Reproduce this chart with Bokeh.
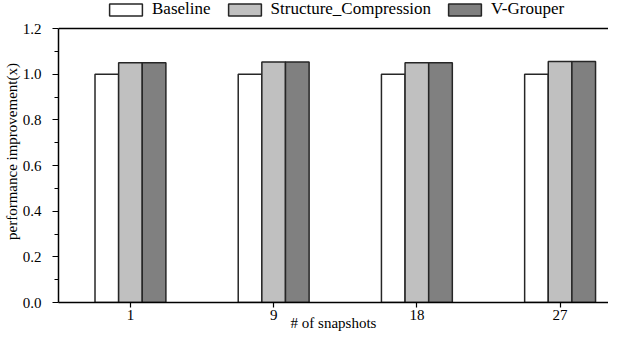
from bokeh.plotting import figure
from bokeh.models import (ColumnDataSource, Range1d, FixedTicker,
                          PrintfTickFormatter, Legend, LegendItem, Span)
from bokeh.transform import dodge
from bokeh.embed import file_html
from bokeh.resources import INLINE

snapshots = ["1", "9", "18", "27"]
baseline = [1.0, 1.0, 1.0, 1.0]
structure_compression = [1.05, 1.053, 1.05, 1.055]
v_grouper = [1.05, 1.053, 1.05, 1.055]
series_names = ["Baseline", "Structure_Compression", "V-Grouper"]
series_colors = ["#ffffff", "#c0c0c0", "#808080"]
y_ticks = [0.0, 0.2, 0.4, 0.6, 0.8, 1.0, 1.2]
y_minor = [0.1, 0.3, 0.5, 0.7, 0.9, 1.1]
y_max = 1.2

pos = list(range(1, len(snapshots) + 1))
src = ColumnDataSource(dict(x=pos, b=baseline, s=structure_compression, v=v_grouper))

FONT = "Liberation Serif"

p = figure(width=608, height=333, output_backend="svg", toolbar_location=None,
           x_range=Range1d(0.4976, 4.338), y_range=Range1d(0, 1.3227),
           min_border_left=50, min_border_right=0, min_border_top=0, min_border_bottom=28)
p.outline_line_color = None
p.grid.visible = False
p.background_fill_color = "white"

bw = 0.165
cols = ["b", "s", "v"]
offs = [-bw, 0.0, bw]
renderers = []
for c, o, col in zip(cols, offs, series_colors):
    r = p.vbar(x=dodge("x", o), top=c, width=bw, bottom=0, source=src,
               fill_color=col, line_color="#262626", line_width=1.5)
    renderers.append(r)

top_line = Span(location=y_max, dimension="width", line_color="black", line_width=1.5)
p.add_layout(top_line)

# x axis
p.xaxis.ticker = FixedTicker(ticks=pos)
p.xaxis.major_label_overrides = {x: s for x, s in zip(pos, snapshots)}
p.xaxis.minor_tick_line_color = None
p.xaxis.major_tick_out = 5
p.xaxis.major_tick_in = 0
p.xaxis.axis_label = "# of snapshots"
p.xaxis.axis_label_standoff = -8
p.xaxis.major_label_standoff = 2

# y axis
p.yaxis.ticker = FixedTicker(ticks=y_ticks, minor_ticks=y_minor)
p.yaxis.formatter = PrintfTickFormatter(format="%.1f")
p.yaxis.bounds = (0, y_max)
p.yaxis.major_tick_out = 6
p.yaxis.major_tick_in = 0
p.yaxis.minor_tick_out = 4
p.yaxis.minor_tick_in = 0
p.yaxis.axis_label = "performance improvement(x)"
p.yaxis.axis_label_standoff = 0
p.yaxis.major_label_standoff = 11

for ax in [p.xaxis, p.yaxis]:
    ax.axis_line_width = 1.5
    ax.axis_line_color = "black"
    ax.major_tick_line_color = "black"
    ax.major_tick_line_width = 1.2
    ax.minor_tick_line_width = 1.2
    ax.major_label_text_font = FONT
    ax.major_label_text_font_size = "15px"
    ax.major_label_text_color = "black"
    ax.axis_label_text_font = FONT
    ax.axis_label_text_font_size = "15px"
    ax.axis_label_text_font_style = "normal"
    ax.axis_label_text_color = "black"
p.yaxis.minor_tick_line_color = "black"

legend = Legend(items=[LegendItem(label=n, renderers=[r]) for n, r in zip(series_names, renderers)],
                orientation="horizontal", location=(47, 283),
                glyph_width=41, glyph_height=15, label_standoff=6, spacing=13,
                padding=0, margin=0, border_line_color=None, background_fill_alpha=0,
                label_text_font=FONT, label_text_font_size="17px", label_height=15,
                label_text_color="black")
p.add_layout(legend, "center")

open("out.html", "w").write(file_html(p, INLINE))
